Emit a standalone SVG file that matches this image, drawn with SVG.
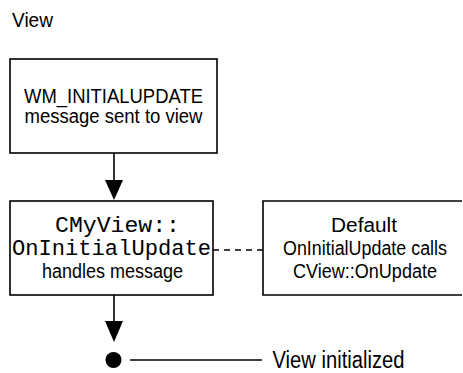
<svg xmlns="http://www.w3.org/2000/svg" width="463" height="373" viewBox="0 0 463 373">
  <defs>
    <style>
      .box { fill: #fff; stroke: #000; stroke-width: 1.6; }
      .lbl { font-family: "Liberation Sans", Arial, sans-serif; font-size: 20px; fill: #000; text-anchor: middle; }
      .mono { font-family: "Liberation Mono", "Courier New", monospace; font-size: 22px; fill: #000; }
      .wire { stroke: #000; stroke-width: 1.6; fill: none; }
      .dash { stroke: #000; stroke-width: 1.3; fill: none; stroke-dasharray: 6 5; }
      .head { fill: #000; }
    </style>
  </defs>
  <rect width="463" height="373" fill="#fff"/>

  <text x="12" y="27" class="lbl" style="text-anchor:start;font-size:21px" textLength="41" lengthAdjust="spacingAndGlyphs">View</text>

  <g id="connectors">
    <line class="wire" x1="114" y1="153" x2="114" y2="182"/>
    <polygon class="head" points="105,180 123,180 114,200"/>
    <line class="dash" x1="213" y1="250" x2="263" y2="250"/>
    <line class="wire" x1="114" y1="295" x2="114" y2="323"/>
    <polygon class="head" points="105,321 123,321 114,342"/>
    <line class="wire" x1="130" y1="360" x2="262" y2="360"/>
  </g>

  <g id="initial-update-msg">
    <rect class="box" x="10" y="59" width="207" height="94"/>
    <text x="113.5" y="103" class="lbl" textLength="179" lengthAdjust="spacingAndGlyphs">WM_INITIALUPDATE</text>
    <text x="113.5" y="123" class="lbl" textLength="178" lengthAdjust="spacingAndGlyphs">message sent to view</text>
  </g>

  <g id="on-initial-update">
    <rect class="box" x="10" y="201" width="203" height="94"/>
    <text x="55" y="232" class="mono" textLength="125" lengthAdjust="spacingAndGlyphs">CMyView::</text>
    <text x="12" y="255" class="mono" textLength="199" lengthAdjust="spacingAndGlyphs">OnInitialUpdate</text>
    <text x="112.5" y="278" class="lbl" textLength="141" lengthAdjust="spacingAndGlyphs">handles message</text>
  </g>

  <g id="default-handler">
    <path class="box" d="M462,201 H263 V295 H462"/>
    <text x="364" y="232" class="lbl" textLength="66" lengthAdjust="spacingAndGlyphs">Default</text>
    <text x="365" y="255" class="lbl" textLength="164" lengthAdjust="spacingAndGlyphs">OnInitialUpdate calls</text>
    <text x="365" y="278" class="lbl" textLength="144" lengthAdjust="spacingAndGlyphs">CView::OnUpdate</text>
  </g>

  <g id="view-initialized">
    <circle cx="113.5" cy="360" r="8" fill="#000"/>
    <text x="272.5" y="368" class="lbl" style="text-anchor:start;font-size:23px" textLength="132" lengthAdjust="spacingAndGlyphs">View initialized</text>
  </g>
</svg>
